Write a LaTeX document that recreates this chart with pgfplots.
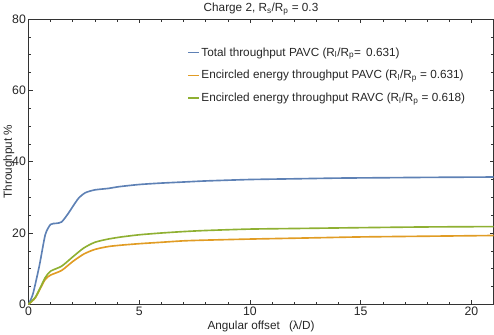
\documentclass[border=0pt]{standalone}
\usepackage{fontspec}
\setmainfont{Liberation Sans}
\usepackage{pgfplots}
\pgfplotsset{compat=1.18}
\definecolor{mblue}{HTML}{5E81B5}
\definecolor{morange}{HTML}{E19C24}
\definecolor{mgreen}{HTML}{8FB032}
\begin{document}
\begin{tikzpicture}
\begin{axis}[
  scale only axis, width=455pt, height=279pt,
  xmin=0, xmax=21, ymin=0, ymax=80,
  xtick={0,5,10,15,20}, ytick={0,20,40,60,80},
  minor x tick num=4, minor y tick num=3,
  tick align=inside, major tick length=4pt, minor tick length=2.5pt,
  tick style={black!80, line width=0.5pt},
  axis line style={black!80, line width=0.8pt},
  ticklabel style={font=\fontsize{12}{14}\selectfont, text=black!85},
  xticklabel style={yshift=1pt},
  yticklabel style={xshift=1pt},
  /pgf/number format/assume math mode=true,
  xlabel={Angular offset \enspace(λ/D)},
  ylabel={Throughput \%},
  label style={font=\fontsize{11.5}{13}\selectfont, text=black!85},
  xlabel style={yshift=2pt},
  ylabel style={yshift=-9pt},
  title={Charge 2, R\textsubscript{s}/R\textsubscript{p} = 0.3},
  title style={font=\fontsize{11.5}{13}\selectfont, text=black!85, yshift=-6pt},
  legend style={at={(0.335,0.915)}, anchor=north west, draw=none, fill=none,
    font=\fontsize{11.5}{13}\selectfont, row sep=8.5pt, text=black!85},
  legend cell align=left,
  legend image code/.code={\draw[#1, line width=1.6pt] (0pt,0pt) -- (10pt,0pt);},
]
\addplot[mblue, line width=1.6pt, smooth, tension=0.4] coordinates {
(0,0) (0.1,1.2) (0.23,3.5) (0.5,11) (0.76,19.5) (1.0,22.4) (1.25,22.7) (1.5,23.1)
(1.8,25.5) (2.0,27.4) (2.27,29.8) (2.57,31.3) (3.0,32.1) (3.6,32.5) (4.1,33.0)
(5,33.6) (6,34.0) (7,34.3) (8,34.6) (10,35.0) (12,35.2) (14,35.4) (16,35.5) (18,35.6) (21,35.7)};
\addplot[morange, line width=1.6pt, smooth, tension=0.4] coordinates {
(0,0) (0.3,1.7) (0.5,4.0) (0.76,7.0) (1.0,8.2) (1.5,9.5) (2.0,12.0) (2.5,14.1)
(3.0,15.4) (3.6,16.2) (4.2,16.6) (5,17.0) (6,17.4) (7,17.8) (8,18.0) (10,18.3)
(12.5,18.6) (15,18.9) (18,19.1) (21,19.3)};
\addplot[mgreen, line width=1.6pt, smooth, tension=0.4] coordinates {
(0,0) (0.3,1.9) (0.5,4.2) (0.76,7.5) (1.0,9.3) (1.5,10.7) (2.0,13.3) (2.5,15.8)
(3.0,17.4) (3.6,18.3) (4.2,18.9) (5,19.5) (6,20.0) (7,20.4) (8,20.7) (10,21.1)
(12.5,21.3) (15,21.5) (18,21.7) (21,21.8)};
\legend{Total throughput PAVC (R\textsubscript{l}/R\textsubscript{p}= \,0.631),
Encircled energy throughput PAVC (R\textsubscript{l}/R\textsubscript{p} = 0.631),
Encircled energy throughput RAVC (R\textsubscript{l}/R\textsubscript{p} = 0.618)}
\end{axis}
\end{tikzpicture}
\end{document}
